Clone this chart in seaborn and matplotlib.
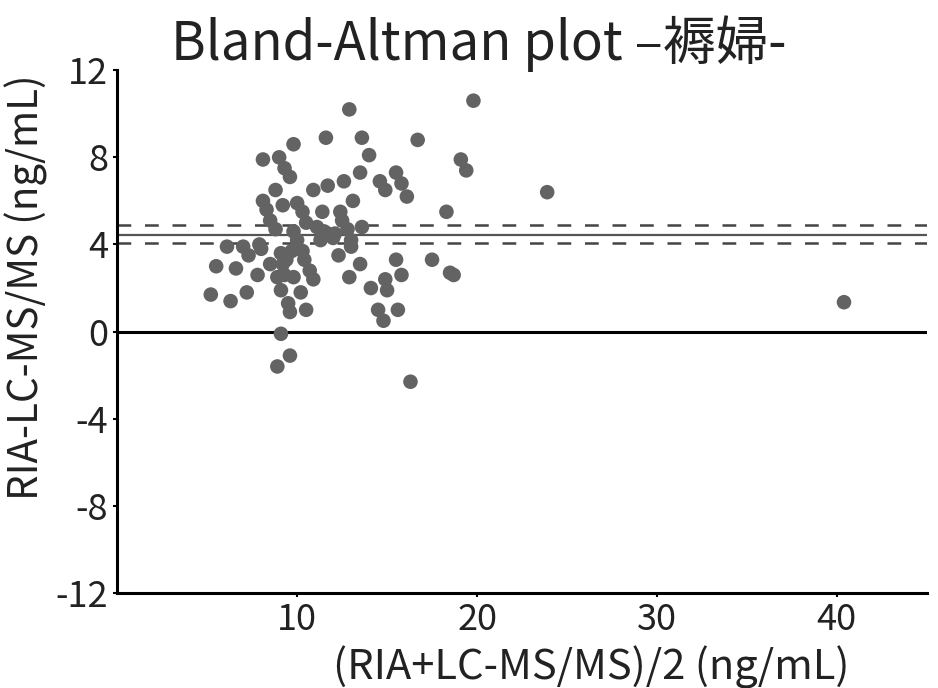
import numpy as np
import pandas as pd
import seaborn as sns
import matplotlib.pyplot as plt

# mean of the two methods (ng/mL)
avg = [12.9, 11.6, 13.6, 16.7, 9.8, 14.0, 8.1, 9.0, 9.3, 9.6,
       8.8, 10.9, 11.7, 12.6, 13.5, 14.6, 14.9, 15.5, 15.8, 16.1,
       18.3, 8.1, 9.2, 8.3, 8.5, 8.8, 10.0, 10.3, 10.5, 11.4,
       12.4, 13.1, 13.6, 12.5, 12.8, 13.0, 11.1, 11.7, 11.3, 12.0,
       11.5, 12.1, 9.8, 10.0, 10.3, 10.4, 10.7, 10.9, 9.1, 9.2,
       9.4, 9.7, 9.3, 8.5, 8.9, 9.1, 9.5, 9.6, 10.2, 10.5,
       9.8, 7.8, 7.0, 7.3, 6.1, 5.5, 6.6, 7.2, 5.2, 6.3,
       7.9, 8.0, 12.3, 13.0, 13.5, 12.9, 14.1, 14.9, 15.0, 15.5,
       15.8, 17.5, 14.5, 14.8, 15.6, 9.1, 9.6, 8.9, 16.3, 18.5,
       19.8, 19.1, 19.4, 23.9, 18.7, 40.4]
# difference RIA - LC-MS/MS (ng/mL)
diff = [10.2, 8.9, 8.9, 8.8, 8.6, 8.1, 7.9, 8.0, 7.5, 7.1,
        6.5, 6.5, 6.7, 6.9, 7.3, 6.9, 6.5, 7.3, 6.8, 6.2,
        5.5, 6.0, 5.8, 5.6, 5.1, 4.7, 5.9, 5.5, 5.0, 5.5,
        5.5, 6.0, 4.8, 5.1, 4.7, 4.2, 4.8, 4.5, 4.2, 4.3,
        4.6, 4.5, 4.6, 4.2, 3.7, 3.3, 2.8, 2.4, 3.6, 3.1,
        3.3, 3.7, 2.6, 3.1, 2.5, 1.9, 1.3, 0.9, 1.8, 1.0,
        2.5, 2.6, 3.9, 3.5, 3.9, 3.0, 2.9, 1.8, 1.7, 1.4,
        4.0, 3.8, 3.5, 3.9, 3.1, 2.5, 2.0, 2.4, 1.9, 3.3,
        2.6, 3.3, 1.0, 0.5, 1.0, -0.1, -1.1, -1.6, -2.3, 2.7,
        10.6, 7.9, 7.4, 6.4, 2.6, 1.35]

mean_diff = 4.45
ci_low = 4.05
ci_high = 4.9

df = pd.DataFrame({"avg": avg, "diff": diff})

sns.set_style("ticks")
plt.rcParams["font.family"] = ["Noto Sans CJK JP", "DejaVu Sans"]
plt.rcParams["axes.unicode_minus"] = False

fig = plt.figure(figsize=(9.38, 6.88), dpi=100)
ax = fig.add_axes([0.125, 0.138, 0.863, 0.76])

sns.scatterplot(data=df, x="avg", y="diff", ax=ax, color="#636363",
                s=110, edgecolor="none", zorder=3)

ax.axhline(0, color="black", lw=2.2, zorder=2)
ax.axhline(mean_diff, color="#555555", lw=1.6, zorder=2)
ax.axhline(ci_high, color="#444444", lw=1.8, ls=(0, (5.5, 5.5)), zorder=2)
ax.axhline(ci_low, color="#444444", lw=1.8, ls=(0, (5.5, 5.5)), zorder=2)

ax.set_xlim(0, 45)
ax.set_ylim(-12, 12)
ax.set_xticks([10, 20, 30, 40])
ax.set_yticks([-12, -8, -4, 0, 4, 8, 12])
ax.tick_params(labelsize=26, length=3, width=1.5, color="black", labelcolor="#222222")
for s in ["left", "bottom"]:
    ax.spines[s].set_linewidth(2.2)
    ax.spines[s].set_color("black")
sns.despine(ax=ax)

ax.set_xlabel("(RIA+LC-MS/MS)/2 (ng/mL)", fontsize=30, color="#222222")
ax.set_ylabel("RIA-LC-MS/MS (ng/mL)", fontsize=29, color="#222222")
ax.xaxis.set_label_coords(0.585, -0.1)
ax.yaxis.set_label_coords(-0.085, 0.585)
fig.suptitle("Bland-Altman plot –褥婦-", fontsize=38, color="#222222", x=0.51, y=0.978)

fig.savefig("out.png", dpi=100)
